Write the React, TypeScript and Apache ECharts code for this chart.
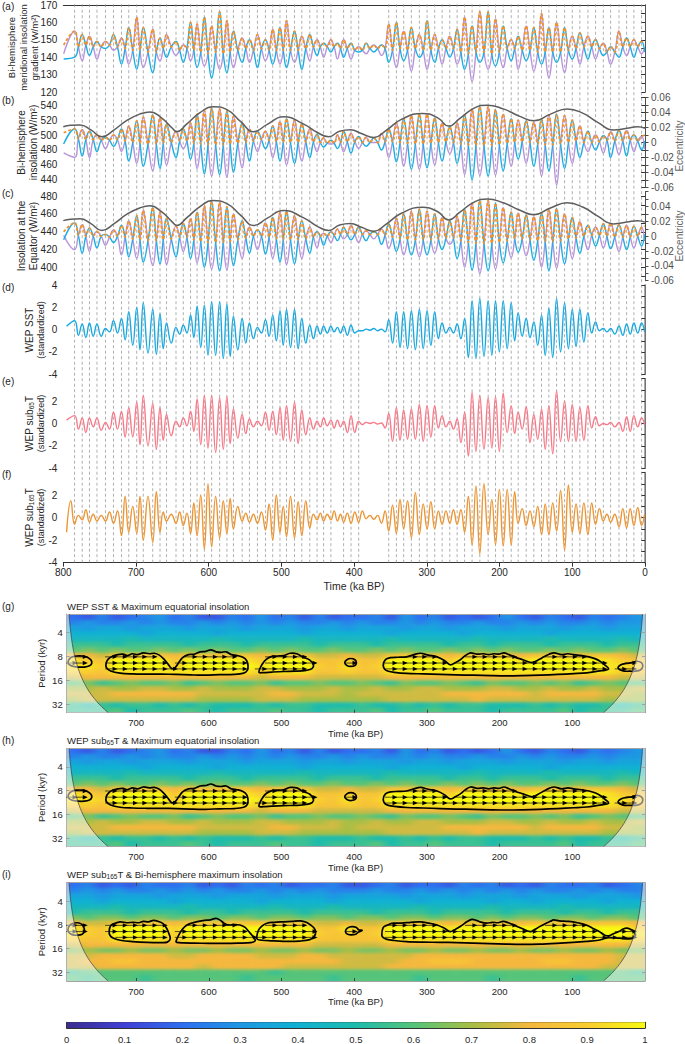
import React, { useEffect, useRef } from "react";
import * as echarts from "echarts";

const FONT = '"Liberation Sans", Arial, Helvetica, sans-serif';
const TXT = "#262626";
const AX = "#333333";
const BOX = "#a3a3a3";

// ---------------- time-series data ----------------
// times (ka BP) of successive orbital (half-precession) maxima
const peakTimes = [784.5, 774, 764, 753.7, 742, 731, 720, 710, 699, 690, 677, 667, 658, 645, 635, 625, 616, 606, 596, 585, 575, 566, 554, 544, 533, 522, 512, 502, 493, 482, 472, 461, 451, 442, 432, 423, 414.5, 404.3, 393.8, 383.5, 373, 362.5, 352.5, 341.9, 331.9, 321.3, 310.3, 299.7, 289.2, 279.0, 268.5, 258.4, 248.1, 237.8, 227.2, 215.7, 205.6, 195.0, 184.0, 174.4, 163.4, 152.9, 142.3, 132.2, 121.6, 110.6, 100, 89.6, 78.5, 68.0, 57.3, 47.3, 35.8, 25.3, 15.3, 4.7];
// dashed reference lines (ka BP)
const dashTimes = [784.5, 774, 764, 753.7, 742, 731, 720, 710, 699, 690, 677, 667, 658, 645, 635, 625, 616, 606, 596, 585, 575, 566, 554, 544, 533, 522, 512, 502, 493, 482, 472, 461, 451, 442, 432, 414.5, 404.3, 393.8, 352.5, 341.9, 331.9, 321.3, 310.3, 299.7, 289.2, 279, 268.5, 258.4, 248.1, 237.8, 227.2, 215.7, 205.6, 195, 184, 174.4, 163.4, 152.9, 142.3, 132.2, 121.6, 110.6, 100, 89.6, 78.5, 68, 57.3, 47.3, 35.8, 25.3, 15.3, 4.7];
const edgeTimes = [799.5, 0.5];

// (a) bi-hemisphere meridional insolation gradient (W/m2)
const aPeak = [155, 153, 152, 149, 149, 153, 151, 157, 163, 157, 156, 151, 153, 149, 147, 160, 159, 163, 158, 166, 161, 155, 151, 150, 153, 150, 156, 157, 161, 155, 152, 153, 150, 148, 150, 148, 150, 148, 146, 148, 147, 147, 159, 160, 155, 157, 153, 161, 153, 150, 152, 156, 163, 158, 166, 166, 162, 158, 150, 152, 158, 157, 165, 157, 160, 157, 152, 154, 152, 150, 148, 146, 155, 151, 150, 149];
const aLow = [140, 138, 141, 139, 145, 144, 136, 136, 133, 134, 131, 138, 140, 141, 137, 138, 134, 135, 128, 133, 131, 134, 137, 137, 134, 138, 136, 136, 134, 137, 133, 138, 141, 140, 143, 139, 140, 139, 143, 142, 143, 141, 137, 134, 138, 132, 140, 133, 137, 136, 140, 136, 133, 126, 137, 133, 135, 134, 138, 133, 138, 132, 136, 128, 137, 131, 139, 136, 139, 139, 141, 136, 140, 141, 140, 142];
const aCross = [146, 147, 146, 146, 147, 146, 145, 144, 144, 143, 143, 145, 146, 144, 145, 144, 143, 142, 143, 142, 143, 144, 145, 144, 145, 144, 144, 144, 144, 144, 145, 146, 146, 146, 146, 145, 145, 144, 144, 145, 145, 145, 144, 145, 144, 145, 144, 144, 145, 145, 145, 143, 142, 143, 143, 142, 143, 145, 145, 144, 144, 143, 143, 143, 143, 144, 145, 146, 146, 145, 143, 143, 146, 146, 146];
const aOrangeEnds = [147, 149];
const aBlueEnds = [139, 143];
const aPurpleEnds = [142, 145];

// (b) bi-hemisphere insolation (W/m2)
const bPeak = [508, 507, 505, 500, 497, 500, 508, 512, 519, 524, 527, 523, 515, 505, 508, 516, 528, 533, 536, 535, 532, 525, 516, 508, 505, 505, 512, 518, 522, 520, 515, 508, 501, 496, 493, 500, 505, 502, 498, 497, 496, 502, 508, 516, 522, 526, 528, 528, 523, 516, 511, 516, 527, 535, 538, 538, 534, 528, 522, 520, 519, 517, 521, 527, 528, 526, 520, 512, 505, 500, 499, 504, 506, 506, 500, 498];
const bLow = [470, 472, 470, 478, 482, 485, 478, 465, 462, 458, 452, 455, 460, 470, 482, 468, 455, 448, 445, 447, 443, 450, 456, 465, 478, 482, 470, 465, 460, 462, 465, 470, 478, 484, 488, 482, 478, 476, 482, 485, 490, 480, 470, 464, 458, 454, 454, 456, 460, 465, 475, 462, 447, 440, 446, 445, 446, 452, 458, 468, 462, 458, 445, 452, 433, 455, 462, 470, 478, 480, 476, 470, 474, 472, 478, 480];
const bCross = [495, 494, 494, 493, 493, 494, 492, 490, 489, 488, 488, 489, 490, 492, 492, 489, 488, 487, 487, 487, 488, 489, 490, 492, 494, 493, 491, 490, 490, 490, 491, 491, 490, 489, 489, 490, 491, 491, 490, 490, 490, 491, 491, 490, 489, 488, 488, 489, 490, 491, 490, 488, 487, 486, 486, 486, 487, 489, 490, 491, 490, 488, 487, 487, 488, 490, 492, 490, 490, 491, 493, 492, 492, 493, 492];
const bOrangeEnds = [503, 500];
const bBlueEnds = [488, 492];
const bPurpleEnds = [476, 481];

// (c) insolation at the Equator (W/m2)
const cPeak = [450, 448, 444, 440, 437, 442, 447, 452, 458, 464, 467, 462, 455, 446, 449, 455, 462, 469, 474, 473, 468, 460, 452, 445, 442, 450, 456, 462, 463, 458, 452, 445, 440, 438, 440, 443, 445, 447, 445, 441, 440, 443, 449, 455, 460, 463, 465, 463, 460, 456, 452, 457, 465, 472, 475, 475, 472, 467, 462, 461, 459, 457, 461, 465, 466, 460, 456, 451, 447, 445, 449, 450, 448, 447, 446, 445];
const cLow = [420, 416, 418, 422, 425, 428, 414, 412, 410, 406, 402, 404, 403, 412, 418, 410, 405, 400, 398, 396, 397, 402, 410, 416, 420, 415, 410, 406, 403, 404, 410, 416, 422, 425, 428, 430, 432, 431, 428, 430, 432, 426, 421, 418, 414, 414, 412, 414, 416, 420, 426, 410, 400, 397, 393, 396, 398, 405, 411, 417, 413, 408, 400, 396, 399, 404, 410, 416, 420, 424, 422, 421, 418, 420, 422, 424];
const cCross = [436, 435, 435, 435, 434, 435, 434, 432, 431, 430, 430, 431, 432, 434, 434, 431, 429, 428, 428, 428, 429, 431, 433, 435, 435, 434, 432, 431, 431, 431, 432, 434, 435, 435, 436, 437, 437, 437, 437, 437, 437, 436, 434, 432, 431, 431, 431, 431, 432, 433, 433, 430, 428, 427, 427, 427, 428, 430, 432, 432, 431, 430, 429, 429, 430, 432, 433, 435, 436, 436, 435, 434, 434, 434, 435];
const cOrangeEnds = [440, 446];
const cBlueEnds = [431, 437];
const cPurpleEnds = [436, 430];

// eccentricity
const eccTimes = [800, 790, 777, 762, 747, 730, 712, 695, 681, 665, 650, 644, 630, 612, 594, 575, 556, 538, 520, 497, 470, 450, 435, 420, 405, 390, 373, 355, 335, 306, 285, 270, 255, 235, 217, 195, 172, 153, 130, 107, 85, 65, 43, 25, 10, 0];
const eccValues = [0.021, 0.023, 0.0235, 0.017, 0.0078, 0.017, 0.03, 0.038, 0.041, 0.033, 0.019, 0.0145, 0.025, 0.04, 0.048, 0.044, 0.028, 0.0145, 0.024, 0.0345, 0.025, 0.013, 0.0078, 0.015, 0.017, 0.012, 0.0068, 0.017, 0.031, 0.039, 0.033, 0.022, 0.032, 0.046, 0.05, 0.045, 0.035, 0.029, 0.038, 0.045, 0.039, 0.027, 0.0166, 0.019, 0.021, 0.019];

// (d) WEP SST, (e) WEP sub65T, (f) WEP sub165T (standardized)
const filtStart = 795.5;
const dPeak = [0.8, 0.5, 0.6, 0.5, 0.1, 0.8, 1.0, 1.6, 2.0, 2.4, 1.8, 1.4, 0.6, 0.2, 0.4, 1.3, 2.1, 2.2, 2.5, 2.5, 2.3, 1.2, 1.0, 0.6, 0.2, 0.9, 1.3, 1.7, 1.8, 1.8, 1.0, 0.4, 0.3, 0.3, 0.3, 0.2, 0.3, 0.4, -0.1, 0.05, 0.1, 0.05, 0.9, 1.6, 1.6, 1.7, 1.8, 1.7, 1.6, 0.6, 0.2, 0.5, 1.0, 2.6, 2.8, 2.6, 2.6, 2.6, 2.4, 1.5, 1.0, 0.7, 1.3, 1.9, 2.8, 2.4, 1.8, 1.8, 1.5, 0.7, 0.1, 0.1, 0.3, 0.5, 0.6, 0.6];
const dTrough = [-0.5, -0.7, -0.6, -0.6, -0.2, -0.3, -0.9, -1.4, -1.8, -2.1, -2.2, -1.7, -1.2, -0.4, -0.3, -0.7, -1.6, -2.3, -2.3, -2.6, -2.4, -1.8, -1.2, -0.8, -0.3, -0.6, -1.0, -1.4, -1.6, -1.7, -1.2, -0.8, -0.4, -0.3, -0.2, -0.3, -0.5, -0.3, -0.1, -0.05, -0.1, -0.2, -1.2, -1.6, -1.7, -1.8, -1.7, -1.4, -0.8, -0.3, -0.3, -0.8, -2.5, -2.6, -2.4, -2.3, -2.0, -1.7, -1.0, -0.6, -0.7, -1.4, -2.3, -2.5, -2.0, -1.7, -1.5, -1.1, -0.3, -0.1, -0.2, -0.4, -0.5, -0.4, -0.3];
const dEnds = [0.3, -0.2];
const ePeak = [0.7, 0.5, 0.5, 0.5, 0.1, 1.0, 1.1, 1.4, 1.9, 2.5, 1.8, 1.4, 0.8, 0.2, 0.5, 1.1, 2.2, 2.5, 2.5, 2.3, 2.4, 1.3, 0.8, 0.4, 0.2, 1.0, 1.1, 1.4, 1.6, 1.9, 1.2, 0.5, 0.2, 0.5, 0.3, 0.3, 0.2, 0.7, 0.2, 0.1, 0.1, 0.05, 0.9, 1.4, 1.2, 1.3, 1.7, 1.6, 1.6, 0.7, 0.2, 0.4, 1.0, 2.8, 2.5, 2.3, 2.4, 2.7, 1.6, 1.0, 1.5, 0.8, 1.3, 1.6, 2.9, 2.0, 1.7, 1.4, 1.6, 0.6, 0.0, 0.1, 0.1, 0.6, 0.7, 0.5];
const eTrough = [-0.5, -0.8, -0.3, -0.6, -0.5, -0.5, -1.2, -1.2, -1.9, -2.0, -2.3, -1.5, -1.1, -0.3, -0.2, -0.7, -1.9, -2.2, -2.6, -2.3, -1.8, -1.3, -0.9, -0.3, -0.2, -0.6, -1.0, -1.5, -1.6, -1.8, -1.0, -0.5, -0.3, -0.2, -0.4, -0.3, -0.8, -0.8, -0.1, 0.0, -0.05, -0.4, -1.6, -1.5, -1.4, -1.4, -1.6, -1.2, -0.4, -0.3, -0.5, -1.7, -2.9, -2.5, -2.3, -2.2, -2.5, -0.8, -0.9, -0.5, -1.7, -1.4, -2.3, -2.7, -1.6, -1.6, -1.6, -1.5, -0.4, -0.2, -0.1, -0.3, -0.7, -0.7, -0.3];
const eEnds = [0.3, -0.15];
const fTrough = [-0.6, -0.2, -0.4, -0.3, -0.3, -0.5, -1.6, -1.3, -1.4, -2.0, -2.2, -1.3, -0.3, -0.5, -0.7, -1.4, -1.6, -2.8, -2.6, -1.8, -1.4, -1.0, -0.3, -0.4, -0.5, -1.1, -2.0, -1.3, -1.7, -1.8, -1.6, -0.9, -0.2, -0.3, -0.2, -0.3, -0.4, -0.5, -0.4, -0.1, -0.15, -0.5, -1.2, -1.4, -1.0, -1.8, -1.5, -1.0, -1.0, -0.6, -0.5, -0.6, -1.3, -2.4, -3.2, -1.5, -2.4, -2.5, -2.4, -0.5, -0.7, -0.8, -1.5, -1.5, -1.2, -2.9, -1.3, -1.4, -1.5, -0.6, -0.3, -0.4, -0.8, -0.9, -0.7, -0.7];
const fPeak = [0.2, 0.7, 0.3, 0.2, 0.5, 0.6, 1.9, 1.0, 1.9, 1.9, 2.3, 0.5, 0.3, 0.5, 0.4, 1.3, 2.0, 3.0, 1.9, 1.5, 1.7, 1.0, 0.4, 0.3, 0.5, 1.2, 2.0, 1.0, 1.9, 1.4, 1.5, 0.3, 0.4, 0.3, 0.6, 0.3, 0.4, 0.5, 0.6, 0.2, 0.2, 0.6, 1.1, 1.6, 1.5, 2.2, 1.2, 1.4, 0.6, 0.6, 0.7, 0.7, 1.9, 2.8, 3.0, 1.6, 2.5, 2.5, 2.3, 0.8, 0.6, 1.0, 1.2, 1.3, 2.4, 2.9, 1.2, 1.3, 1.3, 0.8, 0.3, 0.3, 0.8, 0.8, 0.9];
const fLead = [[795.5, -1.3], [789.6, 1.5]];
const fEnd = 0.3;

// tick values
const aTicks = [120, 125, 130, 135, 140, 145, 150, 155, 160, 165, 170];
const aLabels = [120, 130, 140, 150, 160, 170];
const bTicks = [430, 440, 450, 460, 470, 480, 490, 500, 510, 520, 530, 540, 550];
const bLabels = [440, 460, 480, 500, 520, 540];
const cTicks = [390, 400, 410, 420, 430, 440, 450, 460, 470, 480];
const cLabels = [400, 420, 440, 460, 480];
const zTicks = [-4, -3, -2, -1, 0, 1, 2, 3, 4];
const zLabelsTop = [-4, -2, 0, 2, 4];
const zLabels = [-4, -2, 0, 2];
const eccTicks = [-0.06, -0.05, -0.04, -0.03, -0.02, -0.01, 0, 0.01, 0.02, 0.03, 0.04, 0.05, 0.06];
const eccLabelsB = [-0.06, -0.04, -0.02, 0, 0.02, 0.04, 0.06];
const eccLabelsC = [-0.06, -0.04, -0.02, 0, 0.02, 0.04];
const timeLabels = [800, 700, 600, 500, 400, 300, 200, 100, 0];
const heatTimeTicks = [100, 200, 300, 400, 500, 600, 700];
const heatPeriodTicks = [4, 8, 16, 32];
const colorbarTicks = [0, 0.1, 0.2, 0.3, 0.4, 0.5, 0.6, 0.7, 0.8, 0.9, 1];

// ---------------- wavelet coherence data ----------------
const heatTimeMax = 795.4;
const periodMin = 2.33;
const periodMax = 41.1;
// coherence, one letter per cell: a=0.00, b=0.05 ... u=1.00 (40 columns 795->0 ka, 18 rows short->long period)
const heatRowsGH = [
  "edfdefgefd dfegefdfde efdgefdede gedfedfefg",
  "fgffgfgffg fgfgfgffgf gffgfgffgf fgfgffgfgg",
  "hghhghhhgh hhghhhghhg hhhghhghhh ghhhghhghh",
  "iiiiihiiii hiiiiihiii iihiiiihii iiihiiiiii",
  "jjjjkjjjjj kjjjjjkjjj jjkjjjjjkj jjjkjjjjkj",
  "lllkllllkl llkllllkll lkllllkllk lllklllkll",
  "mnmnmmnmnm nmmnmnmmnm mnmnmmnmnm nmmnmnmmnm",
  "qqprrrrqrr rrrqrrrppq pprrrrqrrr rqrrrrrrqp",
  "tsruuuuruu uutsuuurrs rruuuusuuu utuuuuutsr",
  "ttsuuuusuu uuutuuusrt rsuuuuuuuu uuuuuuutts",
  "ssrttttttt tttstttrrs rrtttttttt ttttttttsr",
  "pqqqqqqqqq qqqpqqqppp ppqqqqqqqq qqqqqqqqpp",
  "mnlmnmmnlm nmmnlmmnmm nmlnmmnmln mmnmnlmnmm",
  "oopooppoop oooppooopo opooppooop poopoopoop",
  "pppqqqqqqp ppppqqpppo ppppppqqqq qqpqqqqppo",
  "oppppppppo ooopppoooo ooppppppqp pppppppooo",
  "lklkllklkl kkklkllkkk lkklklkllk kklklkklkl",
  "lllmklllml klllmllkll lmkllmlllk llllmklllm",
];
const heatRowsI = [
  "efdedfeefd edfefdeefd defdeedfef dedfeefdef",
  "fgfgffgfgf gffgfgfgff fgffgfgfgf gfgffgfgff",
  "hhghhhghhh ghhhghhhgh hhhghhhghh hghhhghhhg",
  "iihiiiihii iiihiiiihi iiiihiiiih iihiiiihii",
  "jjjkjjjjkj jjjjkjjjkj jjjjkjjjjk jjjjkjjjjj",
  "klllklllkl lkllllklll lklllkllll klllkllkll",
  "nmnnmnnmnn mnnmnnmnnm nnmnnmnnmn mnnmnnmnnm",
  "qpprrrrqrr rrrrrrrppq pprrrrqrrr rqrrrrrrrq",
  "tsruuuusuu uuuuuuurrt rruuuutuuu uuuuuuuuus",
  "tsruuuusuu uuuuuuusrs rsuuuuuuuu uuuuuuuuut",
  "srrttttstt tttttttrrr rrtttttttt ttttttttts",
  "pqqqqqqqqq qqqqqqqppp ppqqqqqqqq qqqqqqqqqp",
  "nonnonnonn onnonnonno nnonnonnon nonnonnonn",
  "ppqqqqqppq qqqpppqqpp ppppqqqqqq qqqqqqqqpp",
  "pqqrrqqqqq qqqqqqqqqp pppqqrrrqq qqqrrqqqpp",
  "ppqqqqqqqp qqqqqppppp ppqqqqqqqq qqqqqqqppp",
  "lmmmmmmmmm mmmmlmmmmm mmmmmmmmmm mmmmmmmmml",
  "mlmmmlmmmm mmlmmmmmlm mmmmlmmmml mmmmmlmmmm",
];
// 5% significance contours [time ka, period kyr]
const contoursGH = [
  [[793, 9.0], [789, 8.2], [782, 7.9], [774, 7.9], [767, 8.2], [762, 8.9], [761, 9.8], [764, 10.5], [771, 10.9], [780, 10.9], [788, 10.6], [793, 9.9]],
  [[741, 9.6], [738, 8.6], [733, 8.0], [725, 7.6], [718, 7.5], [712, 7.8], [705, 7.4], [698, 7.6], [690, 7.2], [682, 7.4], [675, 7.3], [668, 7.7], [662, 8.6], [656, 10.0], [651, 11.4], [646, 11.0], [641, 9.5], [636, 8.3], [628, 7.6], [620, 7.5], [612, 7.0], [604, 6.9], [597, 6.6], [590, 7.0], [583, 7.1], [576, 7.0], [569, 7.6], [561, 7.8], [553, 8.2], [548, 9.0], [546, 10.5], [547, 12.0], [552, 13.0], [565, 13.5], [585, 13.6], [605, 13.8], [625, 13.7], [645, 13.5], [665, 13.4], [685, 13.4], [705, 13.3], [722, 13.0], [735, 12.2], [741, 11.0]],
  [[531, 12.7], [527, 10.2], [521, 8.7], [513, 8.0], [505, 7.9], [497, 7.8], [488, 7.3], [479, 7.4], [470, 8.2], [461, 8.9], [456, 10.2], [458, 11.4], [466, 12.0], [480, 12.3], [497, 12.4], [513, 12.6], [525, 12.8]],
  [[413, 9.6], [410, 8.8], [405, 8.5], [399, 8.8], [397, 9.6], [399, 10.4], [405, 10.7], [410, 10.4]],
  [[360, 10.3], [357, 8.8], [350, 8.3], [340, 8.2], [328, 8.1], [318, 7.6], [309, 7.3], [298, 7.7], [286, 8.1], [276, 9.0], [268, 10.2], [261, 9.6], [254, 8.8], [247, 7.8], [240, 7.2], [231, 7.5], [222, 7.4], [215, 7.6], [208, 7.4], [201, 7.5], [194, 7.2], [187, 7.6], [180, 8.1], [168, 8.8], [155, 9.6], [147, 8.9], [139, 8.1], [132, 7.5], [125, 7.2], [115, 7.6], [106, 7.4], [98, 7.6], [87, 7.8], [77, 8.1], [68, 8.6], [61, 9.3], [55, 10.3], [50, 11.5], [56, 12.0], [62, 12.2], [80, 12.9], [98, 13.2], [120, 13.5], [144, 13.8], [168, 14.0], [190, 14.1], [212, 14.0], [236, 13.8], [260, 13.7], [282, 13.5], [305, 13.3], [328, 13.1], [345, 12.7], [353, 12.3], [358, 11.6]],
  [[37, 11.2], [33, 10.2], [26, 9.8], [18, 9.6], [11, 9.2], [5, 9.6], [3, 10.6], [6, 11.8], [13, 12.3], [21, 12.3], [30, 12.2]],
];
const contoursI = [
  [[793, 8.6], [789, 7.8], [782, 7.5], [776, 7.7], [772, 8.5], [771, 9.6], [774, 10.5], [781, 10.8], [788, 10.6], [793, 9.8]],
  [[737, 9.6], [735, 8.2], [730, 7.7], [722, 7.3], [713, 7.5], [704, 7.4], [696, 7.5], [690, 7.2], [683, 7.3], [676, 7.0], [668, 7.3], [663, 7.7], [658, 8.8], [655, 10.2], [653, 12.0], [657, 13.2], [665, 13.4], [685, 13.3], [705, 13.0], [720, 12.6], [731, 11.8], [736, 10.8]],
  [[645, 12.9], [641, 10.6], [636, 9.0], [630, 8.0], [622, 7.5], [614, 7.2], [606, 7.0], [598, 6.9], [590, 6.6], [584, 7.0], [579, 7.6], [573, 8.0], [565, 7.9], [557, 8.0], [550, 8.6], [545, 9.7], [539, 11.3], [536, 12.6], [542, 13.4], [560, 13.6], [580, 13.7], [600, 13.7], [620, 13.6], [635, 13.5], [644, 13.3]],
  [[534, 11.4], [532, 9.5], [527, 8.3], [520, 7.6], [510, 7.4], [497, 7.3], [485, 7.2], [474, 7.1], [466, 7.4], [460, 8.0], [455, 8.8], [453, 9.8], [455, 11.2], [461, 12.3], [475, 12.8], [497, 12.9], [515, 12.7], [527, 12.5], [533, 12.2]],
  [[412, 9.6], [409, 8.7], [403, 8.4], [397, 8.6], [394, 9.2], [389, 9.4], [394, 9.8], [398, 10.5], [405, 10.7], [410, 10.4]],
  [[362, 10.7], [360, 8.6], [354, 8.0], [346, 7.6], [335, 7.6], [322, 7.4], [309, 7.3], [297, 7.6], [286, 8.0], [276, 8.8], [268, 9.7], [260, 9.0], [252, 8.1], [245, 7.3], [238, 6.8], [232, 7.0], [227, 7.3], [218, 7.6], [210, 7.4], [202, 7.5], [195, 7.2], [188, 7.5], [181, 8.0], [170, 8.8], [158, 9.7], [151, 9.1], [145, 8.4], [136, 7.6], [130, 7.2], [126, 6.9], [118, 7.1], [108, 7.2], [99, 7.3], [90, 7.6], [81, 8.0], [72, 8.8], [63, 9.7], [56, 10.7], [50, 11.0], [44, 10.4], [36, 9.7], [30, 9.0], [25, 8.8], [20, 9.1], [16, 9.6], [13, 10.7], [16, 11.6], [22, 12.0], [35, 11.8], [50, 11.6], [58, 12.1], [64, 12.5], [80, 12.9], [99, 13.3], [122, 13.7], [145, 14.0], [168, 14.1], [191, 14.0], [214, 13.8], [236, 13.6], [259, 13.4], [282, 13.3], [305, 13.2], [328, 13.0], [345, 12.6], [355, 12.2], [360, 11.6]],
];
const arrowTimes = [788, 774, 760, 747, 733, 719, 705, 692, 678, 664, 650, 637, 623, 609, 595, 582, 568, 554, 540, 527, 513, 499, 485, 472, 458, 444, 430, 417, 403, 389, 375, 362, 348, 334, 320, 307, 293, 279, 265, 252, 238, 224, 210, 197, 183, 169, 155, 142, 128, 114, 100, 87, 73, 59, 45, 32, 18, 4];
const arrowPeriods = [8.1, 9.7, 11.5];
// cone of influence: distance from record edge (kyr) at each period
const coiPeriods = [2.33, 3, 4, 5.7, 8, 11.3, 16, 22.6, 32, 41.1];
const coiWidths = [3.3, 4.2, 5.6, 7.9, 11.1, 15.7, 22.2, 31.4, 44.5, 57.1];

const colormap = ["#3b2c8f", "#4040d5", "#2f6ef0", "#1d97e3", "#10b1d2", "#1dbbac", "#55c47a", "#a8be45", "#f5b83e", "#f8cd30", "#f8f90f"];

// ---------------- layout ----------------
const L = 63.3, W = 581.7;
const HL = 66.7, HW = 578.3;
const heatRects = [
  { left: HL, top: 614, width: HW, height: 98.7 },
  { left: HL, top: 748.3, width: HW, height: 98.4 },
  { left: HL, top: 882.7, width: HW, height: 98.3 },
];

// ---------------- helpers ----------------
const LEVELS = "abcdefghijklmnopqrstu";
function parseRows(rows: string[]) {
  return rows.map((r) => r.replace(/\s+/g, "").split("").map((ch) => Math.max(0, LEVELS.indexOf(ch)) * 0.05));
}
const midTimes = peakTimes.slice(0, -1).map((t, i) => (t + peakTimes[i + 1]) / 2);

function orbital(pk: number[], lo: number[], cross: number[], ends: number[], role: string) {
  const pts: number[][] = [[edgeTimes[0], ends[0]]];
  for (let i = 0; i < peakTimes.length; i++) {
    let v = pk[i];
    if (role !== "max") {
      const mine = role === "even" ? i % 2 === 0 : i % 2 === 1;
      v = mine ? pk[i] : lo[i];
    }
    if (v !== undefined) pts.push([peakTimes[i], v]);
    if (i < midTimes.length && cross[i] !== undefined) pts.push([midTimes[i], cross[i]]);
  }
  pts.push([edgeTimes[1], ends[1]]);
  return pts;
}
function filtered(atP: number[], atM: number[], lead: number[][], endV: number) {
  const pts: number[][] = lead.map((p) => p.slice());
  for (let i = 0; i < peakTimes.length; i++) {
    if (atP[i] !== undefined) pts.push([peakTimes[i], atP[i]]);
    if (i < midTimes.length && atM[i] !== undefined) pts.push([midTimes[i], atM[i]]);
  }
  pts.push([edgeTimes[1], endV]);
  return pts;
}
function insidePoly(pt: number[], poly: number[][]) {
  let c = false;
  for (let i = 0, j = poly.length - 1; i < poly.length; j = i++) {
    const xi = poly[i][0], yi = poly[i][1], xj = poly[j][0], yj = poly[j][1];
    if (yi > pt[1] !== yj > pt[1] && pt[0] < ((xj - xi) * (pt[1] - yi)) / (yj - yi) + xi) c = !c;
  }
  return c;
}
const lg = (p: number) => Math.log2(p);

function lineSeries(data: number[][], color: string, xi: number, yi: number, width: number, dash?: number[]) {
  return {
    type: "line", data, xAxisIndex: xi, yAxisIndex: yi, showSymbol: false, symbol: "none",
    smooth: 0.45, z: 3, silent: true, clip: true, animation: false,
    lineStyle: { color, width, type: dash || "solid", cap: "butt" },
  };
}

function leftAxis(g: number, min: number, max: number, ticks: number[], labels: number[], fmt?: any) {
  return {
    type: "value", gridIndex: g, position: "left", min, max,
    axisLine: { show: true, lineStyle: { color: AX, width: 1 } },
    axisTick: { show: true, inside: false, length: 4, customValues: ticks, lineStyle: { color: AX, width: 1 } },
    axisLabel: { show: true, customValues: labels, margin: 6, color: TXT, fontSize: 10, fontFamily: FONT, formatter: fmt },
    splitLine: { show: false },
  };
}
function plainAxis(g: number, pos: string, color: string, width: number) {
  return {
    type: "value", gridIndex: g, position: pos,
    axisLine: { show: true, onZero: false, lineStyle: { color, width } },
    axisTick: { show: false }, axisLabel: { show: false }, splitLine: { show: false },
  };
}
const eccFmt = (v: number) => (Math.abs(v) < 1e-9 ? "0" : v.toFixed(2));
function eccAxis(g: number, labels: number[]) {
  return {
    type: "value", gridIndex: g, position: "right", min: -0.06, max: 0.06,
    axisLine: { show: true, lineStyle: { color: "#4d4d4d", width: 1 } },
    axisTick: { show: true, inside: false, length: 3.5, customValues: eccTicks, lineStyle: { color: "#4d4d4d" } },
    axisLabel: { show: true, customValues: labels, margin: 6, color: "#4d4d4d", fontSize: 10, fontFamily: FONT, formatter: eccFmt },
    splitLine: { show: false },
  };
}

function buildOption() {
  const grid: any[] = [
    { left: L, top: 3, width: W, height: 89 },
    { left: L, top: 97.7, width: W, height: 89.6 },
    { left: L, top: 191.7, width: W, height: 89 },
    { left: L, top: 285, width: W, height: 89.3 },
    { left: L, top: 378.7, width: W, height: 89.6 },
    { left: L, top: 472.5, width: W, height: 90.2 },
    { left: L, top: 3, width: W, height: 559.7 },
    ...heatRects.map((r) => ({ ...r })),
    { left: HL, top: 1022.3, width: HW, height: 9.4 },
  ];
  grid.forEach((g) => (g.containLabel = false));

  const xAxis: any[] = [];
  for (let g = 0; g < 7; g++) {
    const base = { type: "value", gridIndex: g, min: 0, max: 800, inverse: true, splitLine: { show: false } };
    if (g === 0) {
      xAxis.push({ ...base, position: "top", axisLine: { show: true, onZero: false, lineStyle: { color: AX, width: 1 } }, axisTick: { show: false }, axisLabel: { show: false } });
    } else if (g === 5) {
      xAxis.push({
        ...base, position: "bottom",
        axisLine: { show: true, onZero: false, lineStyle: { color: AX, width: 1 } },
        axisTick: { show: true, length: 4, customValues: timeLabels, lineStyle: { color: AX } },
        axisLabel: { show: true, customValues: timeLabels, margin: 5, color: TXT, fontSize: 10, fontFamily: FONT },
      });
    } else {
      xAxis.push({ ...base, show: false });
    }
  }
  for (let k = 0; k < 3; k++) {
    const g = 7 + k;
    const base = { type: "value", gridIndex: g, min: 0, max: heatTimeMax, inverse: true, splitLine: { show: false } };
    xAxis.push({
      ...base, position: "bottom",
      axisLine: { show: true, onZero: false, lineStyle: { color: BOX, width: 1 } },
      axisTick: { show: true, inside: true, length: 3, customValues: heatTimeTicks, lineStyle: { color: "#444" } },
      axisLabel: { show: true, customValues: heatTimeTicks, margin: 5, color: TXT, fontSize: 9.5, fontFamily: FONT },
    });
    xAxis.push({
      ...base, position: "top",
      axisLine: { show: true, onZero: false, lineStyle: { color: BOX, width: 1 } },
      axisTick: { show: true, inside: true, length: 3, customValues: heatTimeTicks, lineStyle: { color: "#444" } },
      axisLabel: { show: false },
    });
  }
  const cbFmt = (v: number) => (Math.abs(v) < 1e-9 ? "0" : Math.abs(v - 1) < 1e-9 ? "1" : v.toFixed(1));
  xAxis.push({
    type: "value", gridIndex: 10, min: 0, max: 1, position: "bottom",
    axisLine: { show: true, onZero: false, lineStyle: { color: AX, width: 1 } },
    axisTick: { show: true, inside: true, length: 3, customValues: colorbarTicks, lineStyle: { color: AX } },
    axisLabel: { show: true, customValues: colorbarTicks, margin: 6, color: TXT, fontSize: 9.5, fontFamily: FONT, formatter: cbFmt },
    splitLine: { show: false },
  });
  xAxis.push({
    type: "value", gridIndex: 10, min: 0, max: 1, position: "top",
    axisLine: { show: true, onZero: false, lineStyle: { color: AX, width: 1 } },
    axisTick: { show: true, inside: true, length: 3, customValues: colorbarTicks, lineStyle: { color: AX } },
    axisLabel: { show: false }, splitLine: { show: false },
  });

  const yAxis: any[] = [
    leftAxis(0, 120, 170, aTicks, aLabels), // 0
    plainAxis(0, "right", "#555", 1), // 1
    leftAxis(1, 430, 550, bTicks, bLabels), // 2
    eccAxis(1, eccLabelsB), // 3
    leftAxis(2, 385, 485, cTicks, cLabels), // 4
    eccAxis(2, eccLabelsC), // 5
    leftAxis(3, -4, 4, zTicks, zLabelsTop), // 6
    plainAxis(3, "right", "#8c8c8c", 1.5), // 7
    leftAxis(4, -4, 4, zTicks, zLabels), // 8
    plainAxis(4, "right", "#8c8c8c", 1.5), // 9
    leftAxis(5, -4, 4, zTicks, zLabels), // 10
    plainAxis(5, "right", "#8c8c8c", 1.5), // 11
    { type: "value", gridIndex: 6, min: 0, max: 1, show: false }, // 12
  ];
  const pTicks = heatPeriodTicks.map(lg);
  for (let k = 0; k < 3; k++) {
    const g = 7 + k;
    const base = { type: "value", gridIndex: g, min: lg(periodMin), max: lg(periodMax), inverse: true, splitLine: { show: false } };
    yAxis.push({
      ...base, position: "left",
      axisLine: { show: true, onZero: false, lineStyle: { color: BOX, width: 1 } },
      axisTick: { show: true, inside: true, length: 3, customValues: pTicks, lineStyle: { color: "#444" } },
      axisLabel: { show: true, customValues: pTicks, margin: 4, color: TXT, fontSize: 9.5, fontFamily: FONT, formatter: (v: number) => String(Math.round(Math.pow(2, v))) },
    });
    yAxis.push({
      ...base, position: "right",
      axisLine: { show: true, onZero: false, lineStyle: { color: BOX, width: 1 } },
      axisTick: { show: true, inside: true, length: 3, customValues: pTicks, lineStyle: { color: "#444" } },
      axisLabel: { show: false },
    });
  }
  yAxis.push({ ...plainAxis(10, "left", AX, 1), min: 0, max: 1 }); // 19
  yAxis.push({ ...plainAxis(10, "right", AX, 1), min: 0, max: 1 }); // 20

  const BLUE = "#1aaee5", PURPLE = "#b793dd", ORANGE = "#f0922d", GRAY = "#5e5e5e";
  const series: any[] = [];
  // dashed reference lines
  series.push({
    type: "custom", xAxisIndex: 6, yAxisIndex: 12, z: 1, silent: true, clip: true,
    data: dashTimes.map((t) => [t, 0]),
    renderItem: (params: any, api: any) => {
      const x = api.coord([api.value(0), 0])[0];
      const y0 = api.coord([0, 0])[1];
      const y1 = api.coord([0, 1])[1];
      return { type: "line", shape: { x1: x, y1: y0, x2: x, y2: y1 }, style: { stroke: "#9a9a9a", lineWidth: 0.8, lineDash: [3, 2.5] } };
    },
  });
  // (a)
  series.push(lineSeries(orbital(aPeak, aLow, aCross, aPurpleEnds, "even"), PURPLE, 0, 0, 1.4));
  series.push(lineSeries(orbital(aPeak, aLow, aCross, aBlueEnds, "odd"), BLUE, 0, 0, 1.4));
  series.push(lineSeries(orbital(aPeak, aLow, aCross, aOrangeEnds, "max"), ORANGE, 0, 0, 1.8, [3, 2]));
  // (b)
  series.push(lineSeries(orbital(bPeak, bLow, bCross, bPurpleEnds, "odd"), PURPLE, 1, 2, 1.4));
  series.push(lineSeries(orbital(bPeak, bLow, bCross, bBlueEnds, "even"), BLUE, 1, 2, 1.4));
  series.push(lineSeries(orbital(bPeak, bLow, bCross, bOrangeEnds, "max"), ORANGE, 1, 2, 1.8, [3, 2]));
  series.push({ ...lineSeries(eccTimes.map((t, i) => [t, eccValues[i]]), GRAY, 1, 3, 1.5), smooth: 0.5, z: 4 });
  // (c)
  series.push(lineSeries(orbital(cPeak, cLow, cCross, cPurpleEnds, "odd"), PURPLE, 2, 4, 1.4));
  series.push(lineSeries(orbital(cPeak, cLow, cCross, cBlueEnds, "even"), BLUE, 2, 4, 1.4));
  series.push(lineSeries(orbital(cPeak, cLow, cCross, cOrangeEnds, "max"), ORANGE, 2, 4, 1.8, [3, 2]));
  series.push({ ...lineSeries(eccTimes.map((t, i) => [t, eccValues[i]]), GRAY, 2, 5, 1.5), smooth: 0.5, z: 4 });
  // (d) (e) (f)
  series.push(lineSeries(filtered(dPeak, dTrough, [[filtStart, dEnds[0]]], dEnds[1]), "#17a9e0", 3, 6, 1.4));
  series.push(lineSeries(filtered(ePeak, eTrough, [[filtStart, eEnds[0]]], eEnds[1]), "#f87a89", 4, 8, 1.4));
  series.push(lineSeries(filtered(fTrough, fPeak, fLead, fEnd), "#ec9532", 5, 10, 1.4));

  // wavelet overlays
  const contourSets = [contoursGH, contoursGH, contoursI];
  for (let k = 0; k < 3; k++) {
    const xi = 7 + 2 * k, yi = 13 + 2 * k;
    const polys = contourSets[k];
    series.push({
      type: "custom", xAxisIndex: xi, yAxisIndex: yi, z: 5, silent: true, clip: true,
      data: polys.map((p) => [p[0][0], lg(p[0][1])]),
      renderItem: (params: any, api: any) => {
        const poly = polys[params.dataIndex];
        const points = poly.map((q) => api.coord([q[0], lg(q[1])]));
        return { type: "polygon", shape: { points, smooth: 0.35 }, style: { fill: "none", stroke: "#000", lineWidth: 1.7 } };
      },
    });
    const arrows: number[][] = [];
    arrowTimes.forEach((t) => arrowPeriods.forEach((p) => {
      const pt = [t, lg(p)];
      if (polys.some((poly) => insidePoly(pt, poly.map((q) => [q[0], lg(q[1])])))) arrows.push(pt);
    }));
    series.push({
      type: "custom", xAxisIndex: xi, yAxisIndex: yi, z: 6, silent: true, clip: true,
      data: arrows,
      renderItem: (params: any, api: any) => {
        const c = api.coord([api.value(0), api.value(1)]);
        const x = c[0], y = c[1];
        return {
          type: "group",
          children: [
            { type: "line", shape: { x1: x - 7, y1: y, x2: x + 1, y2: y }, style: { stroke: "#111", lineWidth: 0.7 } },
            { type: "polygon", shape: { points: [[x + 5.5, y], [x + 0.5, y - 2.2], [x + 0.5, y + 2.2]] }, style: { fill: "#000" } },
          ],
        };
      },
    });
    series.push({
      type: "custom", xAxisIndex: xi, yAxisIndex: yi, z: 7, silent: true, clip: true,
      data: [[heatTimeMax, lg(periodMin)], [0, lg(periodMin)]],
      renderItem: (params: any, api: any) => {
        const left = params.dataIndex === 0;
        const curve = coiPeriods.map((p, i) => api.coord([left ? heatTimeMax - coiWidths[i] : coiWidths[i], lg(p)]));
        const edgeT = left ? heatTimeMax : 0;
        const top = api.coord([edgeT, lg(periodMin)]);
        const bot = api.coord([edgeT, lg(periodMax)]);
        return {
          type: "group",
          children: [
            { type: "polygon", shape: { points: [top, ...curve, bot] }, style: { fill: "rgba(255,255,255,0.5)", stroke: "none" } },
            { type: "polyline", shape: { points: curve, smooth: 0.3 }, style: { fill: "none", stroke: "#3a3a3a", lineWidth: 0.7 } },
          ],
        };
      },
    });
  }
  // colour bar
  series.push({
    type: "custom", xAxisIndex: 13, yAxisIndex: 19, z: 2, silent: true,
    data: [[0, 0]],
    renderItem: (params: any, api: any) => {
      const p0 = api.coord([0, 0]);
      const p1 = api.coord([1, 1]);
      return {
        type: "rect",
        shape: { x: p0[0], y: p1[1], width: p1[0] - p0[0], height: p0[1] - p1[1] },
        style: { fill: new echarts.graphic.LinearGradient(0, 0, 1, 0, colormap.map((c, i) => ({ offset: i / (colormap.length - 1), color: c }))) },
      };
    },
  });

  const R90 = Math.PI / 2;
  const txt = (x: number, y: number, text: string, o: any = {}) => ({
    type: "text", x, y, rotation: o.rot || 0, silent: true, z: 10,
    style: {
      text, fontSize: o.size || 10, fontFamily: FONT, fill: o.color || TXT,
      align: o.align || "left", verticalAlign: "middle", lineHeight: o.lh || 12, rich: o.rich,
    },
  });
  const subRich = {
    m: { fontSize: 10, fontFamily: FONT, fill: TXT, lineHeight: 11 },
    s: { fontSize: 6.5, fontFamily: FONT, fill: TXT, lineHeight: 11, verticalAlign: "bottom" },
    n: { fontSize: 9, fontFamily: FONT, fill: TXT, lineHeight: 11 },
  };
  const titleRich = {
    s: { fontSize: 6.5, fontFamily: FONT, fill: TXT, verticalAlign: "bottom", lineHeight: 11 },
  };
  const graphic: any[] = [
    txt(2, 6, "(a)", { size: 10 }),
    txt(2, 100, "(b)", { size: 10 }),
    txt(2, 193, "(c)", { size: 10 }),
    txt(2, 287, "(d)", { size: 10 }),
    txt(2, 381, "(e)", { size: 10 }),
    txt(2, 474, "(f)", { size: 10 }),
    txt(23.2, 47.5, "Bi-hemisphere\nmeridional insolation\ngradient (W/m²)", { rot: R90, align: "center", lh: 11.3, size: 9.5 }),
    txt(27.5, 142.5, "Bi-hemisphere\ninsolation (W/m²)", { rot: R90, align: "center", lh: 11.6 }),
    txt(27.5, 236, "Insolation at the\nEquator (W/m²)", { rot: R90, align: "center", lh: 11.6 }),
    txt(35.3, 330, "{m|WEP SST}\n{n|(standardized)}", { rot: R90, align: "center", rich: subRich }),
    txt(35.3, 423.5, "{m|WEP sub}{s|65}{m|T}\n{n|(standardized)}", { rot: R90, align: "center", rich: subRich }),
    txt(35.3, 517.5, "{m|WEP sub}{s|165}{m|T}\n{n|(standardized)}", { rot: R90, align: "center", rich: subRich }),
    txt(679, 146, "Eccentricity", { rot: R90, align: "center", size: 10, color: "#666" }),
    txt(679, 236, "Eccentricity", { rot: R90, align: "center", size: 10, color: "#666" }),
    txt(354, 585.5, "Time (ka BP)", { align: "center", size: 10.5 }),
    txt(2, 606, "(g)", { size: 10 }),
    txt(2, 740, "(h)", { size: 10 }),
    txt(2, 874, "(i)", { size: 10 }),
    txt(67, 606, "WEP SST & Maximum equatorial insolation", { size: 9.5 }),
    txt(67, 740, "WEP sub{s|65}T & Maximum equatorial insolation", { size: 9.5, rich: titleRich }),
    txt(67, 874, "WEP sub{s|165}T & Bi-hemisphere maximum insolation", { size: 9.5, rich: titleRich }),
    txt(41.5, 663.3, "Period (kyr)", { rot: R90, align: "center", size: 9.5 }),
    txt(41.5, 797.5, "Period (kyr)", { rot: R90, align: "center", size: 9.5 }),
    txt(41.5, 931.8, "Period (kyr)", { rot: R90, align: "center", size: 9.5 }),
    txt(355.5, 733.3, "Time (ka BP)", { align: "center", size: 9.5 }),
    txt(355.5, 867, "Time (ka BP)", { align: "center", size: 9.5 }),
    txt(355.5, 1001.5, "Time (ka BP)", { align: "center", size: 9.5 }),
  ];

  return { animation: false, textStyle: { fontFamily: FONT }, grid, xAxis, yAxis, series, graphic };
}

function HeatPanel(props: { rows: string[]; rect: any }) {
  const ref = useRef<HTMLDivElement>(null);
  const { rows, rect } = props;
  const field = parseRows(rows);
  const nRows = field.length;
  const nCols = Math.max(...field.map((r) => r.length));
  const cw = rect.width / nCols;
  const ch = rect.height / nRows;
  useEffect(() => {
    if (!ref.current) return;
    const chart = echarts.init(ref.current, null, { renderer: "svg" });
    const data: number[][] = [];
    for (let r = -1; r <= nRows; r++) {
      for (let c = -1; c <= nCols; c++) {
        const rr = Math.min(nRows - 1, Math.max(0, r));
        const row = field[rr];
        const cc = Math.min(row.length - 1, Math.max(0, c));
        data.push([c + 1, r + 1, row[cc]]);
      }
    }
    chart.setOption({
      animation: false,
      grid: { left: 0, right: 0, top: 0, bottom: 0 },
      xAxis: { type: "category", data: Array.from({ length: nCols + 2 }, (_, i) => String(i)), show: false },
      yAxis: { type: "category", data: Array.from({ length: nRows + 2 }, (_, i) => String(i)), show: false, inverse: true },
      visualMap: { type: "continuous", show: false, min: 0, max: 1, inRange: { color: colormap }, seriesIndex: 0 },
      series: [{ type: "heatmap", data, silent: true, itemStyle: { borderWidth: 0 } }],
    });
    return () => chart.dispose();
  }, []);
  return (
    <div style={{ position: "absolute", left: rect.left, top: rect.top, width: rect.width, height: rect.height, overflow: "hidden", zIndex: 1 }}>
      <div ref={ref} style={{ position: "absolute", left: -cw, top: -ch, width: rect.width + 2 * cw, height: rect.height + 2 * ch, filter: "url(#heatBlur)" }} />
    </div>
  );
}

export default function App() {
  const ref = useRef<HTMLDivElement>(null);
  useEffect(() => {
    if (!ref.current) return;
    const chart = echarts.init(ref.current, null, { renderer: "svg" });
    chart.setOption(buildOption() as any);
    return () => chart.dispose();
  }, []);
  return (
    <div style={{ position: "absolute", left: 0, top: 0, width: 685, height: 1044, background: "#fff", overflow: "hidden" }}>
      <svg width="0" height="0" style={{ position: "absolute" }}>
        <defs>
          <filter id="heatBlur" x="-5%" y="-10%" width="110%" height="120%" colorInterpolationFilters="sRGB">
            <feGaussianBlur stdDeviation="5 1.8" />
          </filter>
        </defs>
      </svg>
      <HeatPanel rows={heatRowsGH} rect={heatRects[0]} />
      <HeatPanel rows={heatRowsGH} rect={heatRects[1]} />
      <HeatPanel rows={heatRowsI} rect={heatRects[2]} />
      <div ref={ref} style={{ position: "absolute", left: 0, top: 0, width: 685, height: 1044, zIndex: 2 }} />
    </div>
  );
}
